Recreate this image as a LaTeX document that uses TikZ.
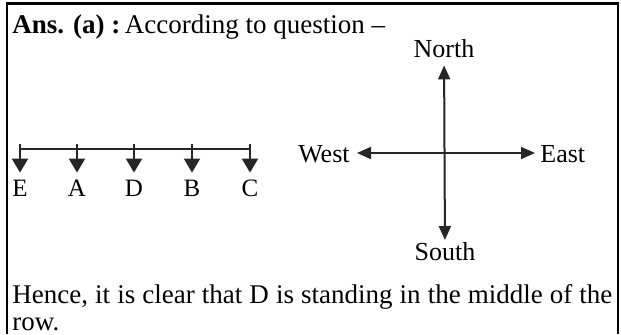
\documentclass[tikz,border=0pt]{standalone}
\usepackage{fontspec}
\setmainfont{Liberation Serif}
\usepackage{tikz}
\usetikzlibrary{arrows.meta}

\begin{document}
\begin{tikzpicture}[x=0.5pt, y=-0.5pt,
  txt/.style={inner sep=0pt, font=\fontsize{13.5}{13.5}\selectfont},
  lbl/.style={inner sep=0pt, text height=9pt, text depth=0pt, font=\fontsize{12.5}{12.5}\selectfont},
  dir/.style={inner sep=0pt, text height=9pt, text depth=0pt, font=\fontsize{13}{13}\selectfont},
  arr/.style={-{Triangle[width=8pt,length=7pt]}, line width=1pt, black!85},
  darr/.style={{Triangle[width=6pt,length=7pt]}-{Triangle[width=6pt,length=7pt]}, line width=1pt, black!85}]

\useasboundingbox (0,0) rectangle (621,334);

% Frame (open at the bottom)
\draw[line width=1.2pt] (7,334) -- (7,3.5) -- (618,3.5) -- (618,334);

% Heading
\node[txt, anchor=base west] (head) at (12,33) {\textbf{Ans. (a) :}\,According to question –};

% Row of persons
\node[lbl, anchor=base] (E) at (20,196) {E};
\node[lbl, anchor=base] (A) at (77,196) {A};
\node[lbl, anchor=base] (D) at (134,196) {D};
\node[lbl, anchor=base] (B) at (192,196) {B};
\node[lbl, anchor=base] (C) at (250,196) {C};

\coordinate (bar1) at (20,149);
\coordinate (bar5) at (250,149);
\draw[line width=1pt, black!85] (bar1) -- (bar5);
\foreach \p/\x in {E/20, A/77, D/134, B/192, C/250} {
  \coordinate (t\p) at (\x,144);
  \draw[arr, shorten >=2.5pt] (t\p) -- (\p);
}

% Directions
\node[dir] (north) at (444,48) {North};
\node[dir] (south) at (445,251) {South};
\node[dir, anchor=east] (west) at (350,153) {West};
\node[dir, anchor=west] (east) at (540,153) {East};

\draw[darr, shorten <=4pt, shorten >=0.8pt] (north) -- (south);
\draw[darr, shorten <=3.5pt, shorten >=2.5pt] (west) -- (east);

% Conclusion
\node[txt, anchor=north west, text width=300pt, align=justify] (concl) at (12,284)
  {Hence, it is clear that D is standing in the middle of the row.};

\end{tikzpicture}
\end{document}
